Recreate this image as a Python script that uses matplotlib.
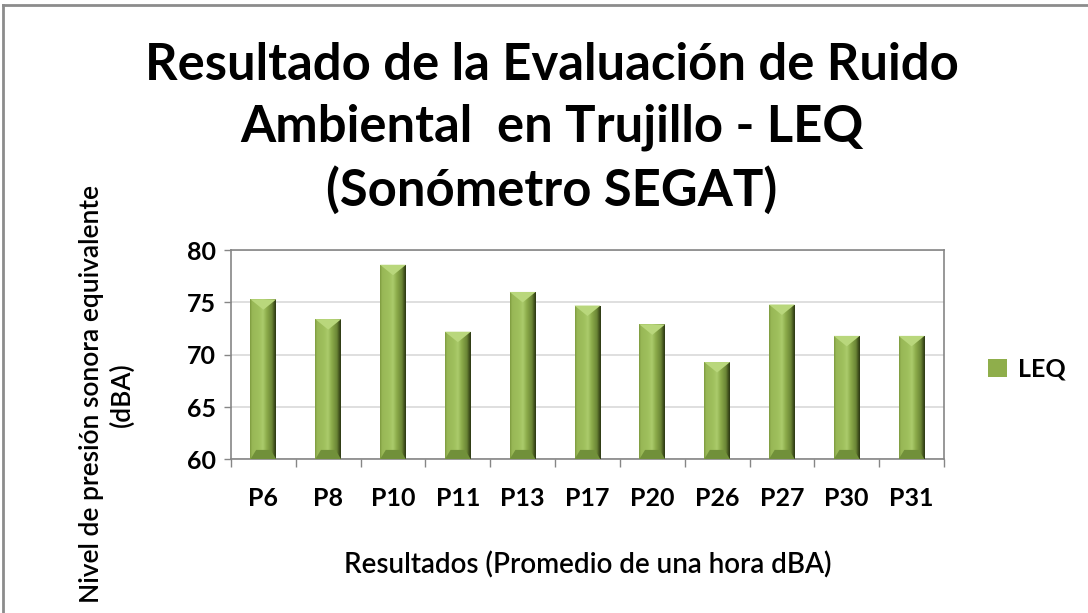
import numpy as np
import matplotlib
matplotlib.use('Agg')
import matplotlib.pyplot as plt
from matplotlib.colors import LinearSegmentedColormap
from matplotlib.patches import Polygon
from matplotlib.lines import Line2D

puntos = ['P6', 'P8', 'P10', 'P11', 'P13', 'P17', 'P20', 'P26', 'P27', 'P30', 'P31']
leq = [75.3, 73.4, 78.6, 72.2, 76.0, 74.7, 72.9, 69.3, 74.8, 71.8, 71.8]
yticks = [60, 65, 70, 75, 80]

plt.rcParams['font.family'] = ['Lato', 'DejaVu Sans']

fig = plt.figure(figsize=(10.88, 6.13), dpi=100)
ax = fig.add_axes([0.2123, 0.2507, 0.6553, 0.3413])

# gradiente horizontal para imitar la barra biselada
verde = LinearSegmentedColormap.from_list('verde', [
    (0.0, '#7d9a3f'), (0.08, '#98b756'), (0.35, '#9fc05d'), (0.5, '#abcb6b'),
    (0.65, '#8cab4a'), (0.85, '#6a8535'), (0.93, '#45571f'), (1.0, '#2c3714')])

x = np.arange(len(puntos))
bars = ax.bar(x, [v - 60 for v in leq], bottom=60, width=0.4, color='#8fae4b',
              label='LEQ', zorder=2)

grad = np.linspace(0, 1, 200).reshape(1, -1)
for b in bars:
    x0, y0, w, h = b.get_x(), b.get_y(), b.get_width(), b.get_height()
    im = ax.imshow(grad, cmap=verde, extent=[x0, x0 + w, y0, y0 + h],
                   aspect='auto', zorder=3)
    im.set_clip_path(b)
    top = y0 + h
    tri = Polygon([[x0, top], [x0 + w, top], [x0 + w / 2, top - 1.0]],
                  closed=True, facecolor='#b9d77c', edgecolor='none', zorder=4)
    ax.add_patch(tri)
    base = Polygon([[x0, y0], [x0 + w, y0], [x0 + w * 0.78, y0 + 0.9],
                    [x0 + w * 0.22, y0 + 0.9]],
                   closed=True, facecolor='#71903a', edgecolor='none', zorder=4)
    ax.add_patch(base)

ax.set_xlim(-0.5, len(puntos) - 0.5)
ax.set_ylim(60, 80)
ax.set_yticks(yticks)
ax.set_xticks(x)
ax.set_xticklabels(puntos, fontsize=18, fontweight='bold')
ax.set_xticks(np.arange(-0.5, len(puntos), 1.0), minor=True)
ax.tick_params(axis='x', which='major', length=0, pad=20)
ax.tick_params(axis='x', which='minor', length=6, color='#868686', width=1)
ax.tick_params(axis='y', length=5, color='#868686', width=1, pad=6)
for lbl in ax.get_yticklabels():
    lbl.set_fontsize(18)
    lbl.set_fontweight('bold')

ax.grid(axis='y', color='#d9d9d9', linewidth=1.2, zorder=0)
ax.set_axisbelow(True)
for s in ax.spines.values():
    s.set_color('#868686')
    s.set_linewidth(1.2)

ax.set_xlabel('Resultados (Promedio de una hora dBA)', fontsize=20,
              fontweight='semibold', labelpad=30)
ax.set_ylabel('Nivel de presión sonora equivalente\n(dBA)', fontsize=19,
              fontweight='semibold', linespacing=1.25)
ax.yaxis.set_label_coords(-0.135, 0.31)

fig.text(0.507, 0.79, 'Resultado de la Evaluación de Ruido\nAmbiental  en Trujillo - LEQ\n(Sonómetro SEGAT)',
         ha='center', va='center', fontsize=36.5, fontweight='bold', linespacing=1.38)

leg = ax.legend(loc='center left', bbox_to_anchor=(1.03, 0.43), frameon=False,
                fontsize=18, handlelength=0.75, handleheight=0.75, handletextpad=0.45)
for t in leg.get_texts():
    t.set_fontweight('bold')
leg.legend_handles[0].set_facecolor('#8fae4b')

# marco exterior del grafico
fig.add_artist(Line2D([0.003, 1.0], [0.992, 0.992], color='#8c8c8c', linewidth=2))
fig.add_artist(Line2D([0.003, 0.003], [0.0, 0.992], color='#8c8c8c', linewidth=2))

fig.savefig('out.png', dpi=100)
